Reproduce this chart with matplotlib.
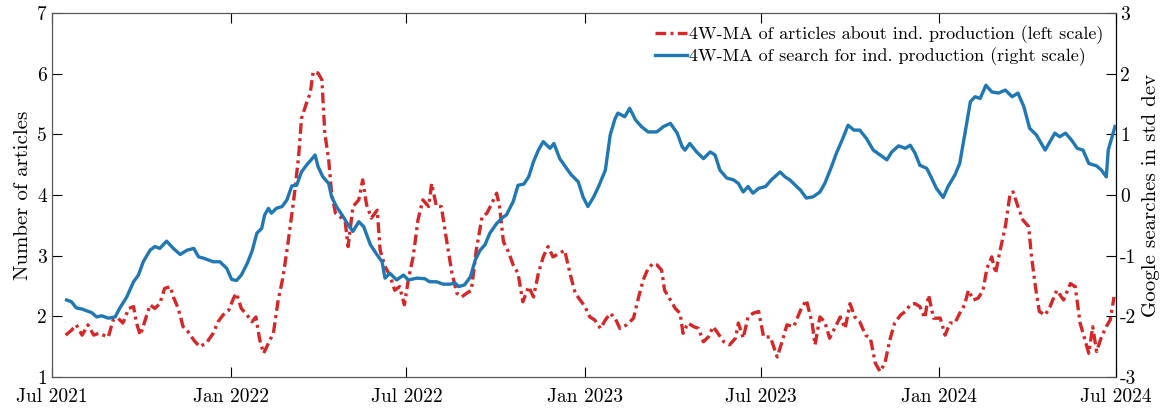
import numpy as np
import pandas as pd
import matplotlib
matplotlib.use('Agg')
from matplotlib import pyplot as plt

plt.rcParams['font.family'] = 'cmr10'
plt.rcParams['mathtext.fontset'] = 'cm'
plt.rcParams['axes.unicode_minus'] = False

start = pd.Timestamp('2021-07-01')

# articles (left scale): days since 2021-07-01 and 4W-MA values
red_days = [14, 20, 25, 31, 37, 43, 48, 53, 58, 63, 68, 73, 79, 84, 87, 91, 96, 101, 106, 111,
            116, 122, 125, 130, 135, 140, 146, 152, 159, 166, 171, 176, 182, 187, 190, 195, 201, 206, 210, 214,
            218, 223, 228, 233, 238, 243, 249, 254, 257, 262, 266, 269, 274, 278, 281, 285, 288, 292, 297, 302,
            305, 310, 316, 320, 324, 329, 335, 338, 343, 348, 353, 358, 363, 367, 372, 377, 382, 388, 391, 396,
            401, 407, 412, 417, 422, 427, 432, 437, 443, 448, 453, 458, 461, 465, 470, 475, 480, 485, 491, 496,
            501, 506, 511, 516, 523, 528, 534, 539, 544, 549, 554, 559, 565, 570, 575, 580, 585, 592, 599, 604,
            609, 614, 619, 623, 628, 631, 637, 642, 647, 650, 655, 661, 666, 671, 676, 681, 686, 692, 698, 704,
            707, 712, 717, 722, 728, 733, 740, 747, 752, 757, 764, 771, 777, 783, 786, 791, 796, 801, 807, 812,
            817, 822, 827, 832, 838, 843, 848, 853, 858, 863, 868, 874, 879, 884, 889, 894, 899, 903, 908, 915,
            920, 925, 930, 935, 940, 944, 949, 954, 959, 963, 968, 972, 976, 982, 987, 990, 995, 1000, 1006, 1009,
            1013, 1017, 1023, 1028, 1035, 1042, 1049, 1054, 1059, 1064, 1068, 1072, 1076, 1081, 1086, 1090, 1094]
red_vals = [1.69, 1.77, 1.86, 1.69, 1.86, 1.69, 1.72, 1.69, 1.66, 1.94, 1.97, 1.89, 2.13, 2.16, 1.89, 1.69, 1.94, 2.19, 2.13, 2.21,
            2.46, 2.49, 2.32, 2.13, 1.83, 1.75, 1.61, 1.50, 1.56, 1.72, 1.91, 2.02, 2.10, 2.30, 2.38, 2.13, 2.02, 1.91, 1.99, 1.61,
            1.39, 1.56, 1.72, 2.27, 2.65, 3.20, 3.92, 4.63, 5.26, 5.51, 5.68, 6.03, 6.01, 5.90, 5.02, 4.58, 4.03, 3.70, 3.64, 3.56,
            3.15, 3.81, 3.92, 4.25, 3.84, 3.62, 3.75, 3.09, 2.82, 2.68, 2.43, 2.49, 2.19, 2.60, 2.98, 3.59, 3.92, 3.81, 4.19, 3.81,
            3.81, 3.20, 2.71, 2.38, 2.32, 2.38, 2.43, 3.09, 3.64, 3.70, 3.86, 4.03, 3.81, 3.23, 3.07, 2.85, 2.71, 2.24, 2.49, 2.32,
            2.71, 2.98, 3.15, 2.98, 3.04, 3.09, 2.68, 2.38, 2.27, 2.16, 1.99, 1.94, 1.80, 1.94, 2.05, 1.97, 1.80, 1.86, 1.97, 2.30,
            2.60, 2.79, 2.87, 2.85, 2.76, 2.43, 2.27, 2.13, 2.05, 1.72, 1.89, 1.83, 1.80, 1.58, 1.66, 1.83, 1.72, 1.58, 1.53, 1.64,
            1.89, 1.64, 1.99, 2.05, 2.08, 1.66, 1.66, 1.33, 1.58, 1.86, 1.83, 2.10, 2.27, 1.89, 1.53, 1.99, 1.91, 1.64, 1.83, 1.99,
            1.80, 2.21, 1.99, 1.91, 1.69, 1.64, 1.23, 1.09, 1.23, 1.61, 1.89, 2.02, 2.08, 2.19, 2.21, 2.16, 1.97, 2.35, 1.97, 1.97,
            1.69, 1.89, 1.89, 2.05, 2.19, 2.43, 2.27, 2.30, 2.43, 2.79, 2.98, 2.71, 3.04, 3.48, 4.03, 4.05, 3.81, 3.59, 3.48, 2.98,
            2.49, 2.08, 2.02, 2.16, 2.43, 2.27, 2.54, 2.49, 1.89, 1.61, 1.39, 1.83, 1.42, 1.66, 1.83, 1.94, 2.32]

# google searches (right scale): days since 2021-07-01 and 4W-MA values
blue_days = [15, 20, 25, 31, 36, 41, 46, 51, 58, 65, 70, 77, 84, 89, 94, 101, 106, 111, 118, 125,
             132, 139, 146, 151, 156, 166, 173, 180, 185, 190, 195, 201, 206, 211, 216, 219, 223, 226, 231, 237,
             242, 247, 252, 257, 262, 268, 271, 274, 279, 285, 288, 293, 300, 305, 310, 316, 321, 328, 335, 340,
             343, 348, 355, 362, 367, 376, 384, 389, 396, 403, 410, 415, 419, 425, 431, 436, 441, 446, 451, 458,
             465, 468, 475, 480, 486, 491, 496, 501, 506, 513, 517, 523, 530, 535, 542, 547, 552, 558, 563, 570,
             575, 580, 583, 590, 595, 601, 607, 614, 623, 630, 637, 644, 649, 652, 657, 664, 671, 678, 683, 688,
             695, 702, 707, 712, 717, 722, 728, 735, 741, 750, 755, 760, 767, 771, 777, 784, 791, 796, 803, 808,
             814, 820, 826, 832, 839, 846, 853, 860, 865, 872, 879, 884, 889, 894, 901, 906, 911, 918, 923, 930,
             935, 941, 946, 951, 956, 962, 968, 975, 982, 989, 995, 1001, 1007, 1014, 1023, 1028, 1033, 1038, 1044, 1050,
             1056, 1062, 1068, 1076, 1081, 1086, 1088, 1092, 1095]
blue_vals = [-1.73, -1.76, -1.86, -1.88, -1.91, -1.94, -2.01, -1.99, -2.03, -2.01, -1.86, -1.68, -1.43, -1.32, -1.10, -0.91, -0.85, -0.88, -0.76, -0.88,
             -0.98, -0.91, -0.88, -1.02, -1.04, -1.10, -1.10, -1.21, -1.39, -1.41, -1.32, -1.13, -0.93, -0.63, -0.55, -0.33, -0.22, -0.30, -0.22, -0.19,
             -0.08, 0.15, 0.16, 0.38, 0.49, 0.60, 0.66, 0.47, 0.30, 0.19, -0.03, -0.19, -0.36, -0.49, -0.60, -0.44, -0.52, -0.82, -0.99, -1.10,
             -1.37, -1.29, -1.40, -1.32, -1.40, -1.37, -1.38, -1.43, -1.43, -1.47, -1.47, -1.45, -1.51, -1.48, -1.35, -1.07, -0.91, -0.82, -0.63, -0.47,
             -0.36, -0.33, -0.11, 0.16, 0.18, 0.30, 0.55, 0.74, 0.88, 0.77, 0.85, 0.60, 0.44, 0.33, 0.22, -0.03, -0.19, -0.03, 0.14, 0.41,
             0.99, 1.26, 1.35, 1.29, 1.43, 1.24, 1.13, 1.04, 1.04, 1.13, 1.18, 1.02, 0.80, 0.74, 0.85, 0.71, 0.60, 0.71, 0.66, 0.41,
             0.28, 0.25, 0.19, 0.05, 0.14, 0.03, 0.11, 0.14, 0.25, 0.38, 0.30, 0.25, 0.14, 0.08, -0.05, -0.03, 0.05, 0.19, 0.47, 0.69,
             0.91, 1.15, 1.07, 1.07, 0.93, 0.74, 0.66, 0.58, 0.71, 0.81, 0.77, 0.82, 0.69, 0.49, 0.44, 0.28, 0.11, -0.04, 0.14, 0.33,
             0.52, 1.07, 1.54, 1.62, 1.59, 1.81, 1.70, 1.68, 1.73, 1.62, 1.68, 1.46, 1.10, 0.99, 0.74, 0.88, 1.02, 0.96, 1.02, 0.91,
             0.77, 0.74, 0.52, 0.48, 0.41, 0.30, 0.74, 0.96, 1.13]

tick_dates = ['2021-07-01', '2022-01-01', '2022-07-01', '2023-01-01', '2023-07-01', '2024-01-01', '2024-07-01']
tick_labels = ['Jul 2021', 'Jan 2022', 'Jul 2022', 'Jan 2023', 'Jul 2023', 'Jan 2024', 'Jul 2024']
left_ticks = [1, 2, 3, 4, 5, 6, 7]
right_ticks = [-3, -2, -1, 0, 1, 2, 3]

red_dates = start + pd.to_timedelta(red_days, unit='D')
blue_dates = start + pd.to_timedelta(blue_days, unit='D')

fig = plt.figure(figsize=(11.74, 4.09), dpi=100)
ax = fig.add_axes([0.0443, 0.0782, 0.9063, 0.8900])
ax2 = ax.twinx()

l1, = ax.plot(red_dates, red_vals, color='#d62728', lw=2.4, ls=(0, (3.2, 1.3, 0.9, 1.3)),
              label='4W-MA of articles about ind. production (left scale)')
l2, = ax2.plot(blue_dates, blue_vals, color='#1f77b4', lw=2.4,
               label='4W-MA of search for ind. production (right scale)')

ax.set_xlim(pd.Timestamp('2021-07-01'), pd.Timestamp('2024-07-01'))
ax.set_ylim(1, 7)
ax2.set_ylim(-3, 3)

ax.set_xticks(pd.to_datetime(tick_dates))
ax.set_xticklabels(tick_labels, fontsize=14)
ax.set_yticks(left_ticks)
ax.set_yticklabels([str(t) for t in left_ticks], fontsize=14)
ax2.set_yticks(right_ticks)
ax2.set_yticklabels([str(t) for t in right_ticks], fontsize=14)

ax.tick_params(axis='x', direction='in', length=7, top=True, pad=8)
ax.tick_params(axis='y', direction='in', length=7, right=False)
ax2.tick_params(axis='y', direction='in', length=7, pad=3)

ax.set_ylabel('Number of articles', fontsize=15)
ax2.set_ylabel('Google searches in std dev', fontsize=15)

for s in ['left', 'top', 'bottom']:
    ax2.spines[s].set_color('#555555')
    ax.spines[s].set_color('#555555')
ax2.spines['right'].set_color('black')

leg = ax2.legend(handles=[l1, l2], loc='upper right', frameon=False, fontsize=13,
                 handlelength=1.8, handletextpad=0.1, borderaxespad=0.3, labelspacing=0.15)

fig.savefig('out.png', dpi=100)
